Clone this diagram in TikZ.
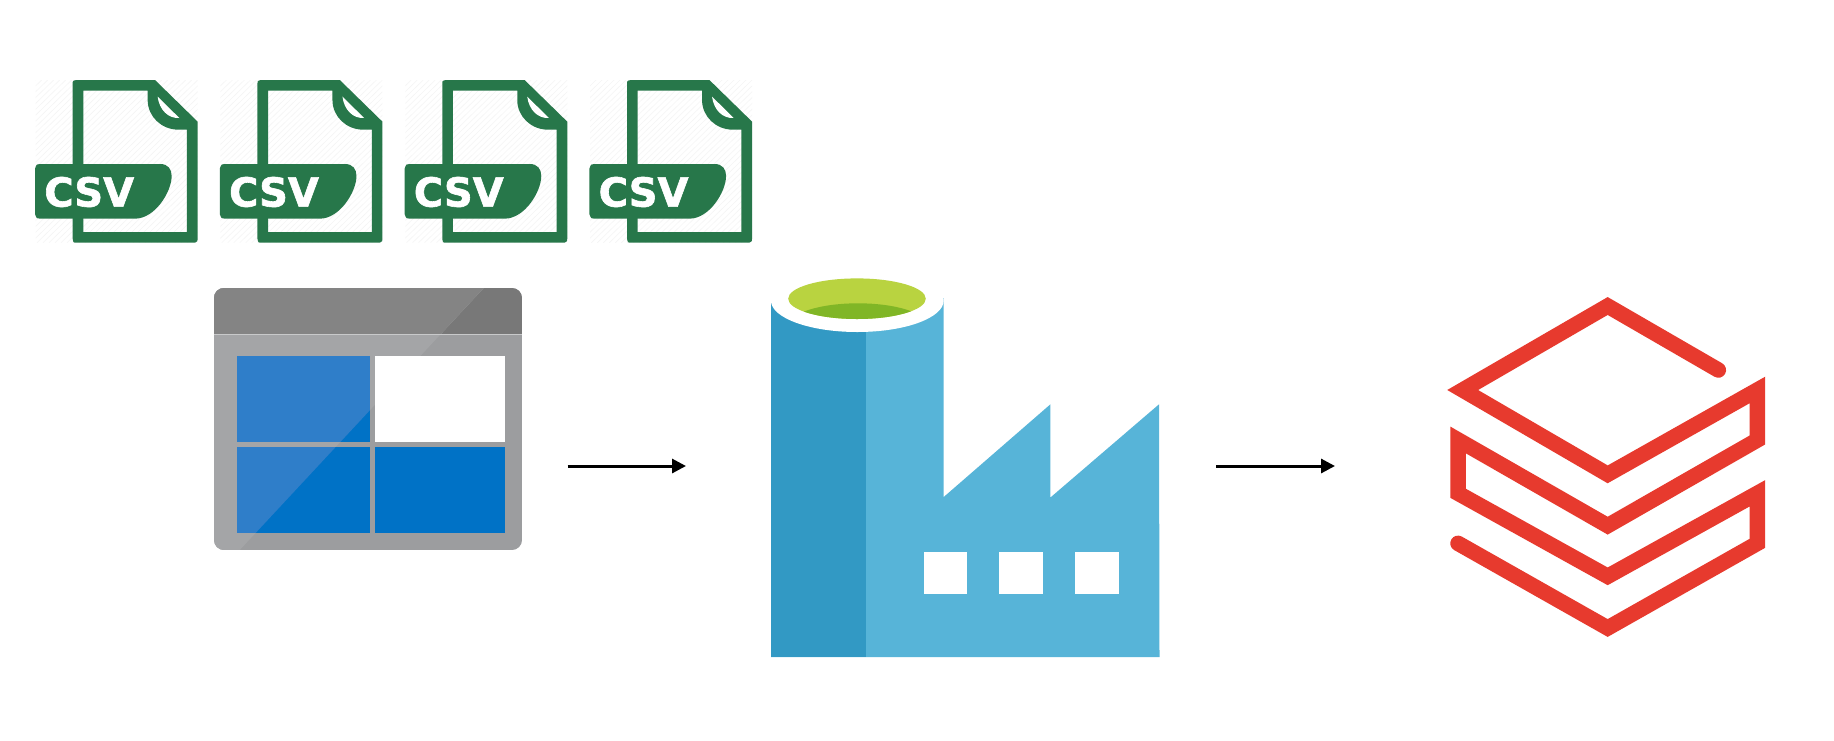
\documentclass[tikz,border=0pt]{standalone}
\usepackage{fontspec}
\setmainfont{DejaVu Sans}
\usetikzlibrary{arrows.meta}
\definecolor{csvgreen}{HTML}{27774A}
\definecolor{hatch}{HTML}{F5F5F5}
\definecolor{hdrdark}{HTML}{787878}
\definecolor{hdrlight}{HTML}{848484}
\definecolor{bodydark}{HTML}{9C9D9F}
\definecolor{bodylight}{HTML}{A4A5A7}
\definecolor{celldark}{HTML}{0072C6}
\definecolor{celllight}{HTML}{2F7EC9}
\definecolor{hdrline}{HTML}{C8C9CA}
\definecolor{factlight}{HTML}{57B4D8}
\definecolor{factdark}{HTML}{3299C4}
\definecolor{greenlight}{HTML}{B9D340}
\definecolor{greendark}{HTML}{80B626}
\definecolor{dbred}{HTML}{E73A2E}
\tikzset{
  flow/.style={line width=3pt,-{Triangle[length=14pt,width=14pt]},shorten >=0pt},
  band/.style={draw=dbred,line width=15.5pt,line join=miter,miter limit=10,line cap=round},
  csvlabel/.style={text=white,inner sep=0pt,font=\fontsize{40}{40}\selectfont\bfseries\addfontfeature{FakeBold=1.5}},
}
\newcommand{\csvicon}[2]{%
  \begin{scope}[shift={(#1,60)},scale=1/3]
    \begin{scope}
      \clip (47,60) rectangle (533,548);
      \foreach \k in {0,18,...,1000} {\draw[hatch,line width=0.6pt] (47+\k-500,548) -- (47+\k,60);}
    \end{scope}
    \fill[csvgreen,even odd rule]
      (170,60) -- (405,60) -- (533,185) -- (533,536) .. controls (533,544) .. (525,548)
      -- (170,548) .. controls (160,548) .. (158,536) -- (158,72) .. controls (158,62) .. (170,60) -- cycle
      (190,92) -- (190,516) -- (501,516) -- (501,209) -- (475,209)
      .. controls (425,209) and (383,170) .. (383,120) -- (383,92) -- cycle;
    \fill[white] (413,110) -- (478,174) .. controls (445,176) and (418,150) .. (413,110) -- cycle;
    \fill[csvgreen] (60,312) -- (420,312) .. controls (445,312) and (455,328) .. (455,348)
      .. controls (455,395) and (405,476) .. (345,476) -- (60,476)
      .. controls (50,476) .. (45,462) -- (45,326) .. controls (50,312) .. (60,312) -- cycle;
    \node[csvlabel] (#2) at (207.6,396) {CSV};
  \end{scope}}
\begin{document}
\begin{tikzpicture}[x=1pt,y=-1pt]
\useasboundingbox (0,0) rectangle (1834,740);
\fill[white] (0,0) rectangle (1834,740);
% CSV icons
\csvicon{20}{csvA}
\csvicon{204.8}{csvB}
\csvicon{389.6}{csvC}
\csvicon{574.4}{csvD}
% Storage
\coordinate (storage) at (368,419);
\begin{scope}
  \clip[rounded corners=10pt] (214,288) rectangle (522,550);
  \fill[bodydark] (214,288) rectangle (522,550);
  \fill[hdrdark] (214,288) rectangle (522,334);
  \begin{scope}
    \clip (214,288) -- (483.7,288) -- (239.8,550) -- (214,550) -- cycle;
    \fill[bodylight] (214,288) rectangle (522,550);
    \fill[hdrlight] (214,288) rectangle (522,334);
  \end{scope}
  \fill[hdrline] (214,334) rectangle (522,335.2);
\end{scope}
\fill[celldark] (236.5,356) rectangle (369.5,442);
\fill[white] (374.5,356) rectangle (505,442);
\fill[celldark] (236.5,447) rectangle (369.5,532.7);
\fill[celldark] (374.5,447) rectangle (505,532.7);
\begin{scope}
  \clip (214,288) -- (483.7,288) -- (239.8,550) -- (214,550) -- cycle;
  \fill[celllight] (236.5,356) rectangle (369.5,442);
  \fill[celllight] (236.5,447) rectangle (369.5,532.7);
\end{scope}
% Factory
\coordinate (factory) at (965,468);
\fill[factlight] (771,298) -- (943.7,298) -- (943.7,497) -- (1050.4,404.3) -- (1050.4,497.5)
  -- (1159,404.3) -- (1159.5,657.2) -- (771,657.2) -- cycle;
\fill[factdark] (771,298) rectangle (865.6,657.2);
\fill[white] (857.3,300.5) ellipse [x radius=86.4,y radius=31.5];
\fill[greenlight] (857,298.7) ellipse [x radius=68.8,y radius=20.3];
\begin{scope}
  \clip (857,298.7) ellipse [x radius=68.8,y radius=20.3];
  \fill[greendark] (858,326) ellipse [x radius=70,y radius=22.7];
\end{scope}
\fill[white] (924.3,551.7) rectangle (967.4,594.3);
\fill[white] (999.4,551.7) rectangle (1042.5,594.3);
\fill[white] (1075.3,551.7) rectangle (1118.8,594.3);
% Databricks
\coordinate (databricks) at (1609,473);
\begin{scope}[shift={(1420,280)},scale=1/3]
  \draw[band] (895,270) -- (563,78) -- (128,330) -- (563,583) -- (1012,330) -- (1012,480)
    -- (563,737) -- (114.5,480) -- (114.5,640) -- (563,889) -- (1012,640) -- (1012,790)
    -- (563,1044) -- (114,790);
\end{scope}
% Connectors
\coordinate (flowAstart) at (567.5,466);
\coordinate (flowAend) at (686,466);
\coordinate (flowBstart) at (1216,466);
\coordinate (flowBend) at (1335,466);
\draw[flow] (flowAstart) -- (flowAend);
\draw[flow] (flowBstart) -- (flowBend);
\end{tikzpicture}
\end{document}
